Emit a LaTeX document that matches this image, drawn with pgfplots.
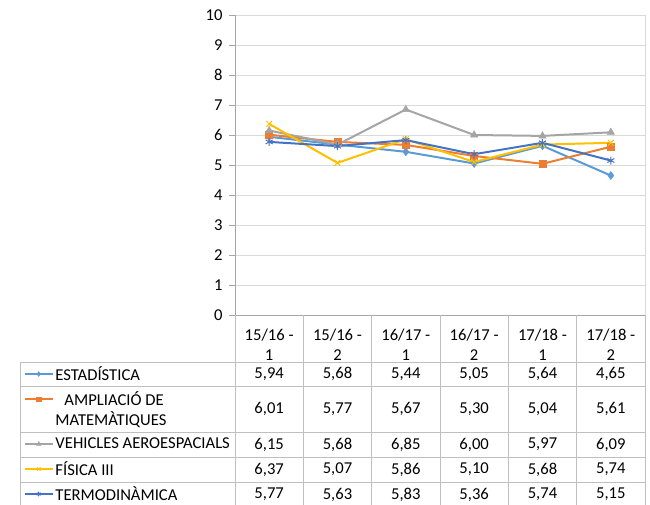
\documentclass[border=0pt]{standalone}
\usepackage{pgfplots}
\usepackage{pgfplotstable}
\usepackage{fontspec}
\setmainfont{Carlito}
\pgfplotsset{compat=1.18}
\definecolor{cEst}{HTML}{5B9BD5}
\definecolor{cAmp}{HTML}{ED7D31}
\definecolor{cVeh}{HTML}{A5A5A5}
\definecolor{cFis}{HTML}{FFC000}
\definecolor{cTer}{HTML}{4472C4}
\definecolor{gridc}{HTML}{D9D9D9}
\definecolor{axisc}{HTML}{A6A6A6}
\definecolor{tabc}{HTML}{BFBFBF}

\pgfplotstableread{
x est amp veh fis ter
0 5.94 6.01 6.15 6.37 5.77
1 5.68 5.77 5.68 5.07 5.63
2 5.44 5.67 6.85 5.86 5.83
3 5.05 5.30 6.00 5.10 5.36
4 5.64 5.04 5.97 5.68 5.74
5 4.65 5.61 6.09 5.74 5.15
}\data

\newcommand\tf{\fontsize{16.6}{20}\selectfont}
\begin{document}
\begin{tikzpicture}[x=1pt,y=1pt]
\useasboundingbox (-235,315) rectangle (415,-189);
\begin{axis}[
  at={(0,0)}, anchor=south west,
  scale only axis, width=410pt, height=300pt,
  xmin=-0.5, xmax=5.5, ymin=0, ymax=10,
  xtick={0,...,5},
  xticklabels={{15/16 -\\1},{15/16 -\\2},{16/17 -\\1},{16/17 -\\2},{17/18 -\\1},{17/18 -\\2}},
  xticklabel style={align=center, font=\tf, anchor=center, yshift=-23.5pt},
  ytick={0,...,10},
  yticklabel style={font=\tf, xshift=-3pt},
  /pgf/number format/assume math mode=true,
  tick align=outside, major tick length=6pt,
  xtick style={draw=none},
  ytick style={draw=axisc, line width=0.8pt},
  ytick pos=left,
  axis line style={draw=none},
  ymajorgrids, grid style={draw=gridc, line width=1pt},
  clip=false,
  legend cell align=left,
  legend style={at={(-0.51463,-0.155)}, anchor=north west, draw=none, fill=none,
    inner sep=0pt, outer sep=0pt, row sep=0pt, column sep=2pt, font=\tf,
    nodes={inner xsep=0pt, inner ysep=0pt, minimum height=25pt}},
  legend image code/.code={\draw[mark repeat=2, mark phase=2, #1, line width=1.5pt, every mark/.append style={scale=0.6}] plot coordinates {(0pt,0pt) (14pt,0pt) (28pt,0pt)};},
]
\addplot[cEst, line width=2pt, mark=diamond*, mark size=4pt, mark options={fill=cEst, draw=cEst, line width=0.5pt}] table[x=x,y=est]{\data};
\addlegendentry{ESTADÍSTICA}
\addplot[cAmp, line width=2pt, mark=square*, mark size=3.5pt, mark options={fill=cAmp, draw=cAmp, line width=0.5pt}] table[x=x,y=amp]{\data};
\addlegendentry[minimum height=45pt, yshift=-10pt, align=left]{\hspace*{9pt}AMPLIACIÓ DE\\MATEMÀTIQUES}
\addplot[cVeh, line width=2pt, mark=triangle*, mark size=4.2pt, mark options={fill=cVeh, draw=cVeh, line width=0.5pt}] table[x=x,y=veh]{\data};
\addlegendentry{VEHICLES AEROESPACIALS}
\addplot[cFis, line width=2pt, mark=x, mark size=4pt, mark options={draw=cFis, line width=1pt}] table[x=x,y=fis]{\data};
\addlegendentry{FÍSICA III}
\addplot[cTer, line width=2pt, mark=asterisk, mark size=4pt, mark options={draw=cTer, line width=1pt}] table[x=x,y=ter]{\data};
\addlegendentry{TERMODINÀMICA}
\end{axis}
% axis lines and table grid
\draw[axisc, line width=0.8pt] (0,0) -- (0,300);
\draw[gridc, line width=1pt] (410,0) -- (410,300);
\draw[axisc, line width=0.8pt] (0,0) -- (410,0);
\foreach \k in {0,...,6}{
  \draw[tabc, line width=1pt] ({68.3333*\k},0) -- ({68.3333*\k},-195);
}
\foreach \yy in {-47,-71,-117,-142,-167}{
  \draw[tabc, line width=1pt] (-214.3,\yy) -- (410,\yy);
}
\draw[tabc, line width=1pt] (-214.3,-47) -- (-214.3,-195);
\foreach \col/\yy in {est/-59, amp/-94, veh/-129.5, fis/-154.5, ter/-179.5}{
  \foreach \i in {0,...,5}{
    \pgfplotstablegetelem{\i}{\col}\of\data
    \node[font=\tf, inner sep=0pt] at ({68.3333*(\i+0.5)}, \yy) {\pgfmathprintnumber[fixed,fixed zerofill,precision=2,use comma,assume math mode=true]{\pgfplotsretval}};
  }
}
\end{tikzpicture}
\end{document}
